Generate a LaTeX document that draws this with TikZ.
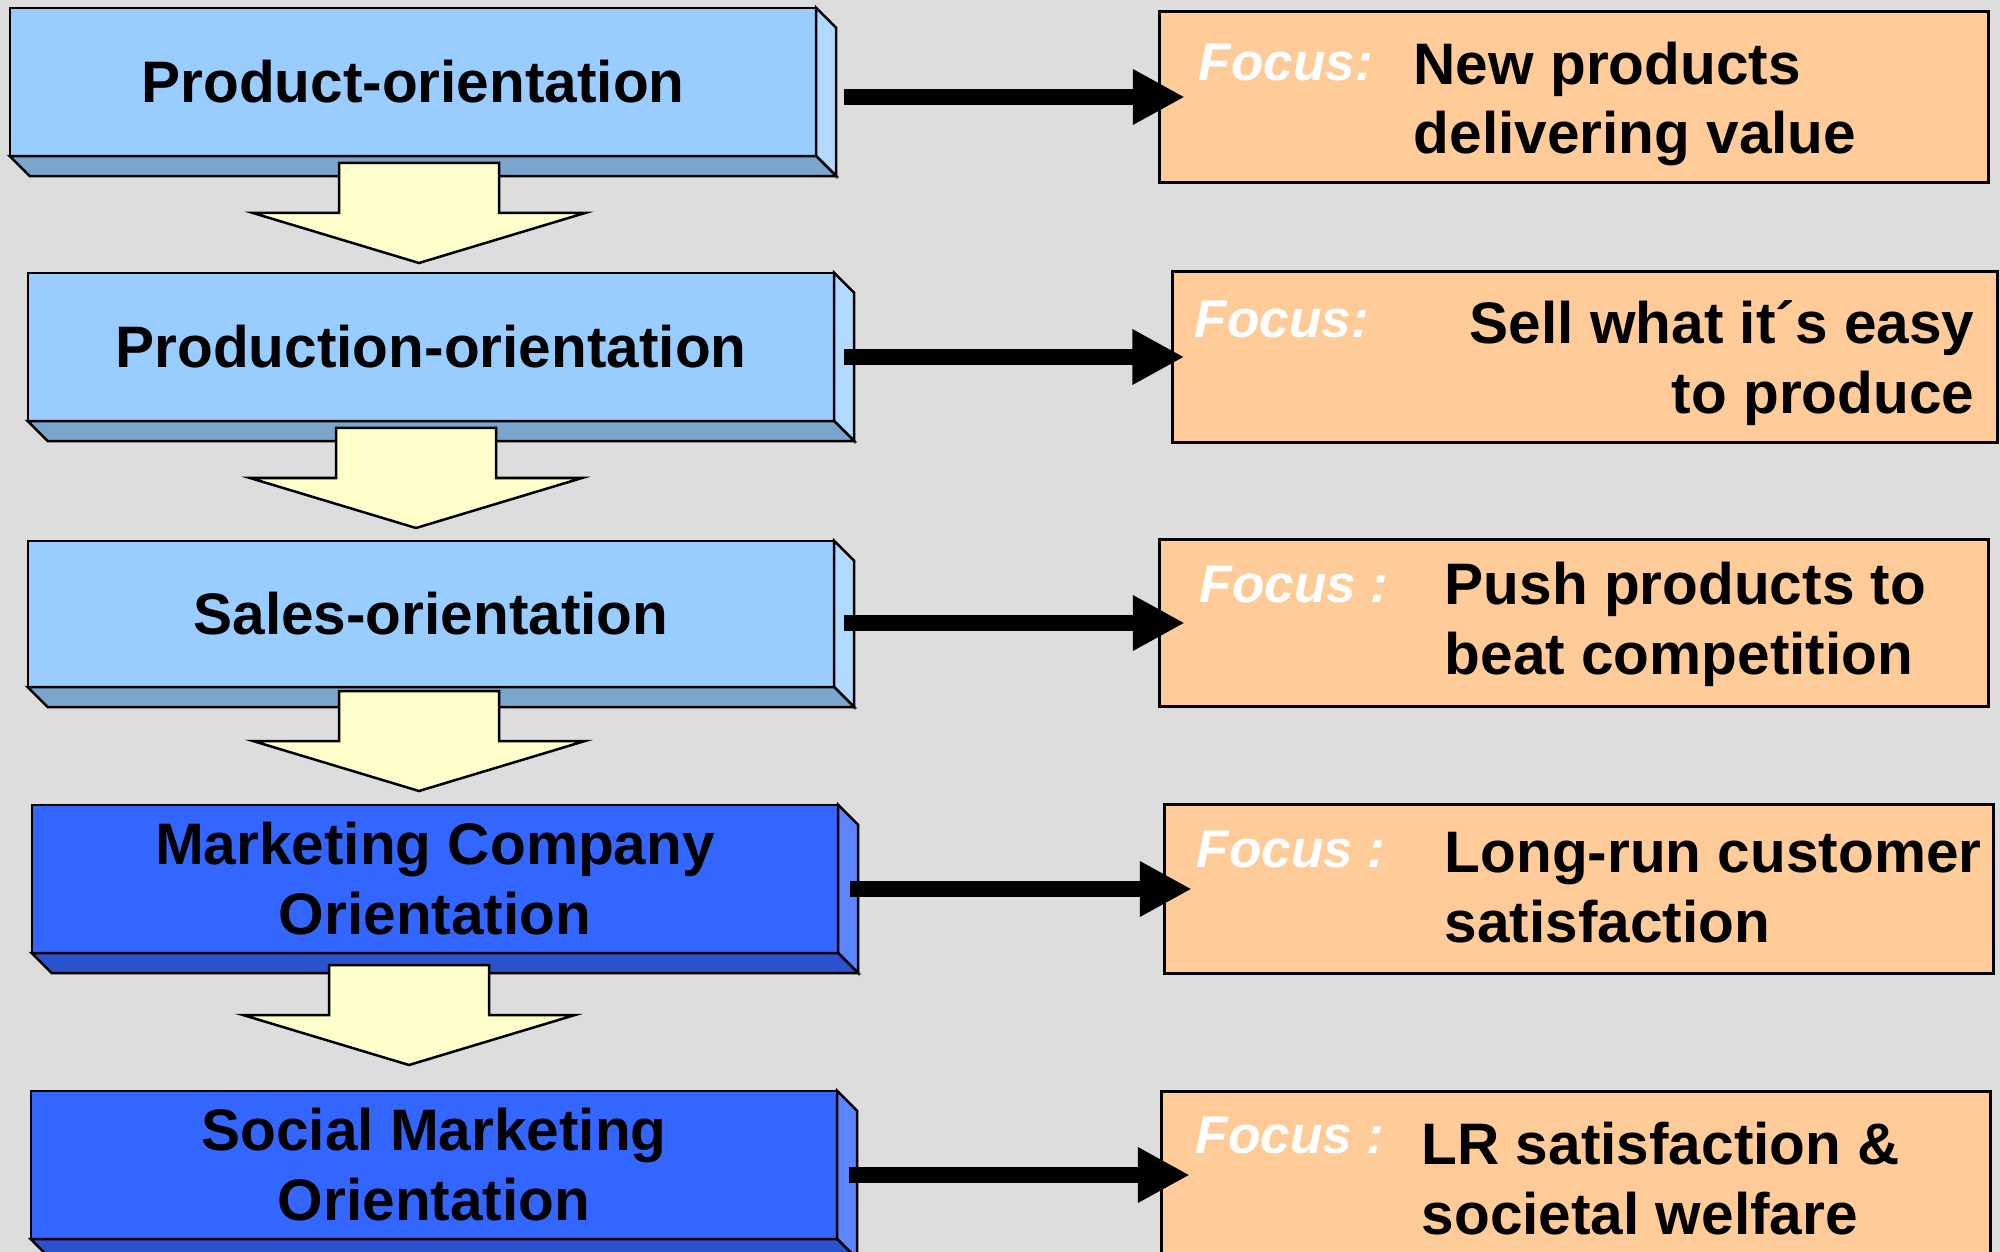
\documentclass[tikz,border=0pt]{standalone}
\usepackage{fontspec}
\setmainfont{Liberation Sans}
\usetikzlibrary{arrows.meta,calc}
\definecolor{panelGray}{RGB}{221,221,221}
\definecolor{stageFront}{RGB}{153,204,255}
\definecolor{stageSide}{RGB}{178,217,255}
\definecolor{stageBase}{RGB}{122,166,206}
\definecolor{deepFront}{RGB}{51,102,255}
\definecolor{deepSide}{RGB}{92,133,255}
\definecolor{deepBase}{RGB}{41,82,204}
\definecolor{focusFill}{RGB}{255,204,153}
\definecolor{stepFill}{RGB}{255,255,204}
\newcommand{\stagefont}{\fontsize{16.65}{19.9}\selectfont\bfseries}
\newcommand{\focusfont}{\fontsize{15.1}{18}\selectfont\bfseries\itshape}
% side and bottom faces of a raised box
\newcommand{\stageslab}[3]{%
  \draw[line width=0.25mm,fill=#2] (#1.north east) -- ++(20,20) -- ($(#1.south east)+(20,20)$) -- (#1.south east) -- cycle;
  \draw[line width=0.25mm,fill=#3] (#1.south west) -- (#1.south east) -- ++(20,20) -- ($(#1.south west)+(20,20)$) -- cycle;}
\tikzset{
  stage/.style={draw,line width=0.25mm,outer sep=0pt,inner sep=0pt,
    minimum width=80.6mm,minimum height=14.8mm,align=center,font=\stagefont},
  focusbox/.style={draw,line width=0.3mm,fill=focusFill,outer sep=0pt,
    minimum width=82.8mm,minimum height=17mm},
  focuslabel/.style={anchor=base west,inner sep=0pt,text=white,font=\focusfont},
  focustext/.style={anchor=base west,inner sep=0pt,align=left,font=\stagefont},
  flow/.style={line width=1.6mm,-{Triangle[length=5.2mm,width=5.2mm]}},
  pics/flowdown/.style={code={
    \draw[line width=0.25mm,fill=stepFill] (-80,0) -- (80,0) -- (80,50) -- (166,50)
      -- (0,100) -- (-166,50) -- (-80,50) -- cycle;}}
}
\begin{document}
\begin{tikzpicture}[x=0.01cm,y=-0.01cm]
  % panel
  \useasboundingbox (0,0) rectangle (2000,1252);
  \fill[panelGray] (0,0) rectangle (2000,1252);
  % orientation stages
  \node[stage,fill=stageFront] (b1) at (413,82) {Product-orientation};
  \stageslab{b1}{stageSide}{stageBase}
  \node[stage,fill=stageFront] (b2) at (431,347) {Production-orientation};
  \stageslab{b2}{stageSide}{stageBase}
  \node[stage,fill=stageFront,minimum height=14.6mm] (b3) at (431,614) {Sales-orientation};
  \stageslab{b3}{stageSide}{stageBase}
  \node[stage,fill=deepFront] (b4) at (435,879) {Marketing Company\\Orientation};
  \stageslab{b4}{deepSide}{deepBase}
  \node[stage,fill=deepFront] (b5) at (434,1165) {Social Marketing\\Orientation};
  \stageslab{b5}{deepSide}{deepBase}
  % steps between stages
  \foreach \x/\y in {419/163,416/428,419/691,409/965}
    \pic at (\x,\y) {flowdown};
  % focus boxes
  \node[focusbox] (r1) at (1574,97) {};
  \node[focusbox,minimum width=82.5mm] (r2) at (1585,357) {};
  \node[focusbox,minimum height=16.7mm] (r3) at (1574,623) {};
  \node[focusbox,minimum height=16.8mm] (r4) at (1579,889) {};
  \node[focusbox,minimum height=16.6mm] (r5) at (1576,1175) {};
  % links
  \draw[flow,shorten <=2.8mm,shorten >=-2.5mm] (b1.east |- r1.west) -- (r1.west);
  \draw[flow,shorten <=1mm,shorten >=-1.2mm] (b2.east |- r2.west) -- (r2.west);
  \draw[flow,shorten <=1mm,shorten >=-2.5mm] (b3.east |- r3.west) -- (r3.west);
  \draw[flow,shorten <=1.2mm,shorten >=-2.7mm] (b4.east |- r4.west) -- (r4.west);
  \draw[flow,shorten <=1.2mm,shorten >=-2.8mm] (b5.east |- r5.west) -- (r5.west);
  % focus texts (base = last line)
  \node[focuslabel] (f1) at (1198,81) {Focus:};
  \node[focustext] (t1) at (1413,154) {New products\\delivering value};
  \node[focuslabel] (f2) at (1194,338) {Focus:};
  \node[focustext,anchor=base east,align=right] (t2) at (1975,413) {Sell what it´s easy\\to produce};
  \node[focuslabel] (f3) at (1199,602) {Focus :};
  \node[focustext] (t3) at (1444,674) {Push products to\\beat competition};
  \node[focuslabel] (f4) at (1196,867) {Focus :};
  \node[focustext] (t4) at (1444,942) {Long-run customer\\satisfaction};
  \node[focuslabel] (f5) at (1195,1153) {Focus :};
  \node[focustext] (t5) at (1421,1234) {LR satisfaction \&\\societal welfare};
\end{tikzpicture}
\end{document}
